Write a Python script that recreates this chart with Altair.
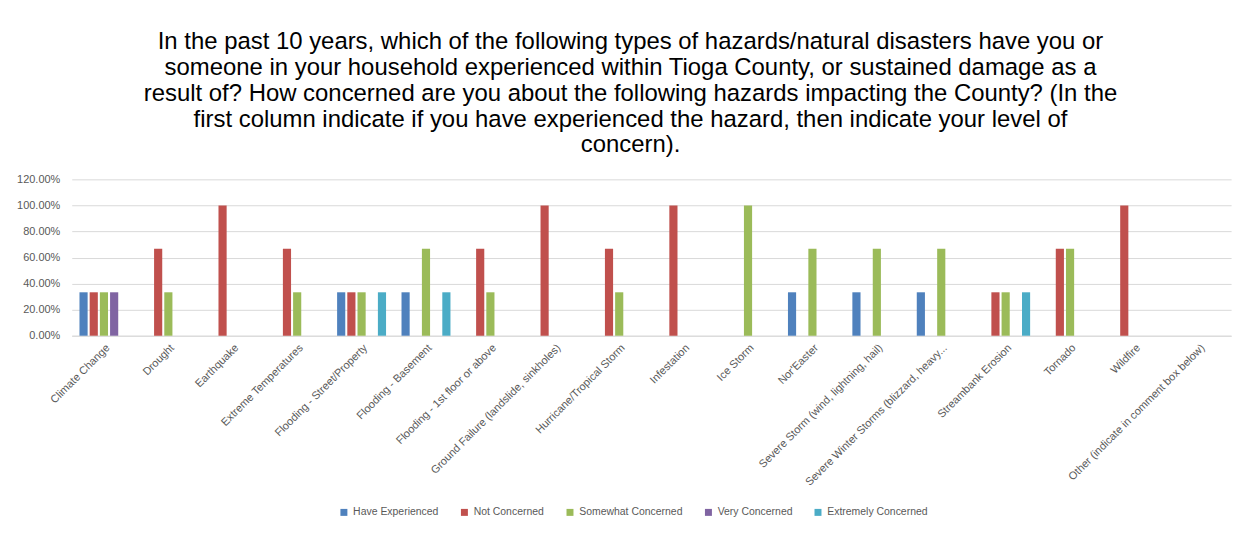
import altair as alt
import pandas as pd

categories = [
    "Climate Change", "Drought", "Earthquake", "Extreme Temperatures",
    "Flooding - Street/Property", "Flooding - Basement",
    "Flooding - 1st floor or above", "Ground Failure (landslide, sinkholes)",
    "Hurricane/Tropical Storm", "Infestation", "Ice Storm", "Nor'Easter",
    "Severe Storm (wind, lightning, hail)", "Severe Winter Storms (blizzard, heavy...",
    "Streambank Erosion", "Tornado", "Wildfire", "Other (indicate in comment box below)",
]
series = ["Have Experienced", "Not Concerned", "Somewhat Concerned",
          "Very Concerned", "Extremely Concerned"]
colors = ["#4F81BD", "#C0504D", "#9BBB59", "#8064A2", "#4BACC6"]

have_experienced = [0.3333, 0, 0, 0, 0.3333, 0.3333, 0, 0, 0, 0, 0, 0.3333, 0.3333, 0.3333, 0, 0, 0, 0]
not_concerned = [0.3333, 0.6667, 1.0, 0.6667, 0.3333, 0, 0.6667, 1.0, 0.6667, 1.0, 0, 0, 0, 0, 0.3333, 0.6667, 1.0, 0]
somewhat_concerned = [0.3333, 0.3333, 0, 0.3333, 0.3333, 0.6667, 0.3333, 0, 0.3333, 0, 1.0, 0.6667, 0.6667, 0.6667, 0.3333, 0.6667, 0, 0]
very_concerned = [0.3333, 0, 0, 0, 0, 0, 0, 0, 0, 0, 0, 0, 0, 0, 0, 0, 0, 0]
extremely_concerned = [0, 0, 0, 0, 0.3333, 0.3333, 0, 0, 0, 0, 0, 0, 0, 0, 0.3333, 0, 0, 0]

title_lines = [
    "In the past 10 years, which of the following types of hazards/natural disasters have you or",
    "someone in your household experienced within Tioga County, or sustained damage as a",
    "result of? How concerned are you about the following hazards impacting the County? (In the",
    "first column indicate if you have experienced the hazard, then indicate your level of",
    "concern).",
]

rows = []
for s, vals in zip(series, [have_experienced, not_concerned, somewhat_concerned,
                            very_concerned, extremely_concerned]):
    for c, v in zip(categories, vals):
        rows.append({"Category": c, "Series": s, "Value": v})
df = pd.DataFrame(rows)

font = "Liberation Sans"

chart = alt.Chart(df).mark_bar().encode(
    x=alt.X("Category:N", sort=categories, title=None,
            scale=alt.Scale(paddingInner=0.24, paddingOuter=0.12),
            axis=alt.Axis(labelAngle=-45, labelAlign="right", labelBaseline="top",
                          labelFontSize=11, labelColor="#595959", labelFont=font,
                          ticks=False, domainColor="#D9D9D9", labelPadding=6,
                          labelLimit=400, labelOverlap=False)),
    xOffset=alt.XOffset("Series:N", sort=series,
                        scale=alt.Scale(paddingInner=0.2, paddingOuter=0)),
    y=alt.Y("Value:Q", title=None,
            scale=alt.Scale(domain=[0, 1.2], nice=False),
            axis=alt.Axis(format=".2%", values=[0, 0.2, 0.4, 0.6, 0.8, 1.0, 1.2],
                          labelFontSize=11, labelColor="#595959", labelFont=font,
                          ticks=False, domain=False, gridColor="#D9D9D9",
                          labelPadding=12, minExtent=50, maxExtent=50)),
    color=alt.Color("Series:N", sort=series,
                    scale=alt.Scale(domain=series, range=colors),
                    legend=alt.Legend(title=None, orient="none", direction="horizontal",
                                      legendX=268, legendY=329,
                                      symbolType="square", symbolSize=49,
                                      symbolStrokeWidth=0, labelFontSize=10.5,
                                      labelColor="#595959", labelFont=font,
                                      columnPadding=20, labelOffset=4)),
).properties(
    width=1164,
    height=157,
    title=alt.Title(text=title_lines, fontSize=24, lineHeight=26, font=font,
                    fontWeight="normal", color="#000000", anchor="middle",
                    dx=-21, offset=16),
    autosize=alt.AutoSizeParams(type="none"),
    padding={"left": 64, "top": 171, "right": 20, "bottom": 190},
).configure_view(stroke=None)

chart.save("out.html", embed_options={"renderer": "svg", "actions": False})
